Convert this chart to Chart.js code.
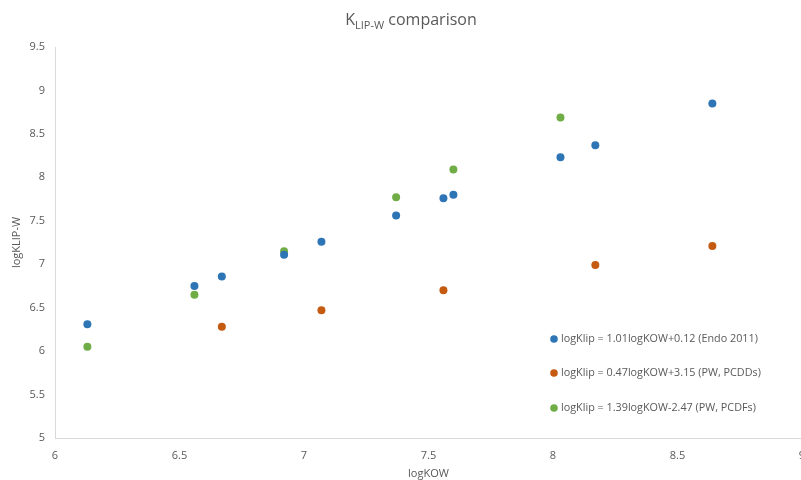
<!DOCTYPE html>
<html><head><meta charset="utf-8">
<script src="https://cdn.jsdelivr.net/npm/chart.js@4/dist/chart.umd.min.js"></script>
<style>html,body{margin:0;padding:0;overflow:hidden;background:#fff}#wrap{width:820px;height:480px}</style>
</head><body><div id="wrap"><canvas id="c" width="820" height="480"></canvas></div>
<script>
const endoX = [6.13, 6.56, 6.67, 6.92, 7.07, 7.37, 7.56, 7.60, 8.03, 8.17, 8.64];
const endoY = [6.31, 6.75, 6.86, 7.11, 7.26, 7.56, 7.76, 7.80, 8.23, 8.37, 8.85];
const pcddX = [6.67, 7.07, 7.56, 8.17, 8.64];
const pcddY = [6.28, 6.47, 6.70, 6.99, 7.21];
const pcdfX = [6.13, 6.56, 6.92, 7.37, 7.60, 8.03];
const pcdfY = [6.05, 6.65, 7.15, 7.77, 8.09, 8.69];
const seriesLabels = ["logKlip = 1.01logKOW+0.12 (Endo 2011)", "logKlip = 0.47logKOW+3.15 (PW, PCDDs)", "logKlip = 1.39logKOW-2.47 (PW, PCDFs)"];
const colors = ["#2E75B6", "#C55A11", "#70AD47"];
const FONT = "'Open Sans', 'Liberation Sans', sans-serif";
const GRAY = "#595959";

function pts(xs, ys){ return xs.map((x,i)=>({x:x, y:ys[i]})); }
function fmt(v){ return String(Math.round(v*10)/10); }

const titlePlugin = {
  id: 'subTitle',
  afterDraw(chart){
    const ctx = chart.ctx;
    ctx.save();
    ctx.fillStyle = GRAY;
    ctx.textBaseline = 'alphabetic';
    const big = "16px " + FONT, small = "11px " + FONT;
    ctx.font = big; const wK = ctx.measureText("K").width;
    ctx.font = small; const wS = ctx.measureText("LIP-W").width;
    ctx.font = big; const wR = ctx.measureText(" comparison").width;
    const total = wK + wS + wR;
    let x = 411 - total/2; const y = 25;
    ctx.font = big; ctx.textAlign='left'; ctx.fillText("K", x, y); x += wK;
    ctx.font = small; ctx.fillText("LIP-W", x, y + 4); x += wS;
    ctx.font = big; ctx.fillText(" comparison", x, y);
    ctx.restore();
  }
};

const legendPlugin = {
  id: 'inLegend',
  afterDatasetsDraw(chart){
    const ctx = chart.ctx;
    const rows = [339, 373, 408];
    ctx.save();
    ctx.font = "10.8px " + FONT;
    ctx.textBaseline = 'middle';
    ctx.textAlign = 'left';
    chart.data.datasets.forEach((ds,i)=>{
      ctx.fillStyle = ds.backgroundColor;
      ctx.beginPath(); ctx.arc(554, rows[i], 3.8, 0, Math.PI*2); ctx.fill();
      ctx.fillStyle = GRAY;
      ctx.fillText(ds.label, 561, rows[i]);
    });
    ctx.restore();
  }
};

new Chart(document.getElementById('c'), {
  type: 'scatter',
  data: {
    datasets: [
      {label: seriesLabels[0], data: pts(endoX, endoY), backgroundColor: colors[0], borderColor: colors[0], pointRadius: 4, borderWidth: 0},
      {label: seriesLabels[1], data: pts(pcddX, pcddY), backgroundColor: colors[1], borderColor: colors[1], pointRadius: 4, borderWidth: 0},
      {label: seriesLabels[2], data: pts(pcdfX, pcdfY), backgroundColor: colors[2], borderColor: colors[2], pointRadius: 4, borderWidth: 0}
    ]
  },
  options: {
    responsive: false,
    animation: false,
    layout: {padding: {top: 47, right: 18, left: 0, bottom: 0}},
    plugins: {legend: {display: false}, tooltip: {enabled: false}, title: {display: false}},
    scales: {
      x: {
        type: 'linear', min: 6, max: 9,
        ticks: {stepSize: 0.5, color: GRAY, font: {family: FONT, size: 11}, padding: 11, maxRotation: 0, callback: fmt},
        grid: {display: false, drawTicks: false},
        border: {display: true, color: '#D9D9D9', width: 1},
        title: {display: true, text: 'logKOW', color: GRAY, font: {family: FONT, size: 11}, padding: {top: 4, bottom: 0}},
        afterFit(s){ s.height = 42; }
      },
      y: {
        type: 'linear', min: 5, max: 9.5,
        ticks: {stepSize: 0.5, color: GRAY, font: {family: FONT, size: 11}, padding: 10, callback: fmt},
        grid: {display: false, drawTicks: false},
        border: {display: true, color: '#D9D9D9', width: 1},
        title: {display: true, text: 'logKLIP-W', color: GRAY, font: {family: FONT, size: 11}, padding: {top: 10, bottom: 0}},
        afterFit(s){ s.width = 55; }
      }
    }
  },
  plugins: [titlePlugin, legendPlugin]
});
</script></body></html>
